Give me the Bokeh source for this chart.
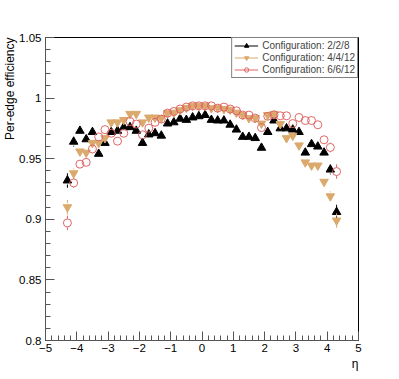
import numpy as np
from bokeh.plotting import figure
from bokeh.models import FixedTicker, Legend, LegendItem, ColumnDataSource, Title
from bokeh.embed import file_html
from bokeh.resources import INLINE

# ---- data ----
eta = [-4.3, -4.1, -3.9, -3.7, -3.5, -3.3, -3.1, -2.9, -2.7, -2.5, -2.3,
       -2.1, -1.9, -1.7, -1.5, -1.3, -1.1, -0.9, -0.7, -0.5, -0.3, -0.1,
       0.1, 0.3, 0.5, 0.7, 0.9, 1.1, 1.3, 1.5, 1.7, 1.9, 2.1,
       2.3, 2.5, 2.7, 2.9, 3.1, 3.3, 3.5, 3.7, 3.9, 4.1, 4.3]

eff_228 = [0.932, 0.964, 0.973, 0.966, 0.972, 0.954, 0.963, 0.972, 0.973, 0.976, 0.976,
           0.973, 0.963, 0.970, 0.971, 0.969, 0.979, 0.980, 0.983, 0.982, 0.984, 0.985,
           0.986, 0.982, 0.9815, 0.9815, 0.978, 0.974, 0.968, 0.968, 0.967, 0.959, 0.972,
           0.9815, 0.975, 0.975, 0.974, 0.972, 0.955, 0.962, 0.960, 0.955, 0.941, 0.906]

eff_4412 = [0.910, 0.938, 0.956, 0.955, 0.963, 0.963, 0.967, 0.980, 0.980, 0.982, 0.987,
            0.987, 0.980, 0.984, 0.984, 0.9835, 0.9876, 0.988, 0.990, 0.992, 0.9936, 0.9936,
            0.9936, 0.9917, 0.992, 0.991, 0.9905, 0.988, 0.986, 0.9835, 0.9835, 0.979, 0.986,
            0.987, 0.9786, 0.967, 0.969, 0.961, 0.947, 0.9444, 0.9444, 0.931, 0.919, 0.899]

eff_6612 = [0.897, 0.930, 0.9455, 0.947, 0.958, 0.968, 0.974, 0.971, 0.9645, 0.971, 0.9807,
            0.9786, 0.9697, 0.9752, 0.980, 0.9827, 0.9876, 0.989, 0.991, 0.9926, 0.9936, 0.9936,
            0.9936, 0.9936, 0.9917, 0.9926, 0.991, 0.9895, 0.986, 0.986, 0.9835, 0.9757, 0.985,
            0.9862, 0.9854, 0.9854, 0.979, 0.984, 0.9815, 0.9815, 0.978, 0.9656, 0.9593, 0.9394]

# approximate statistical uncertainties (larger at the edges)
err = [0.006, 0.004] + [0.0015] * 40 + [0.004, 0.006]

series_names = ["Configuration: 2/2/8", "Configuration: 4/4/12", "Configuration: 6/6/12"]

x_ticks = [-5, -4, -3, -2, -1, 0, 1, 2, 3, 4, 5]
x_tick_labels = ["\u22125", "\u22124", "\u22123", "\u22122", "\u22121", "0", "1", "2", "3", "4", "5"]
y_ticks = [0.8, 0.85, 0.9, 0.95, 1.0, 1.05]
y_tick_labels = ["0.8", "0.85", "0.9", "0.95", "1", "1.05"]

FONT = "Liberation Sans"

p = figure(width=398, height=378, x_range=(-5, 5), y_range=(0.8, 1.05),
           output_backend="svg", toolbar_location=None,
           min_border_left=39, min_border_right=40, min_border_top=37, min_border_bottom=38)
p.grid.visible = False
p.outline_line_color = "black"
p.outline_line_width = 1
p.background_fill_color = "white"
p.border_fill_color = "white"

x_minor = [round(v, 2) for v in np.arange(-5, 5.0001, 0.2)]
y_minor = [round(v, 3) for v in np.arange(0.8, 1.05001, 0.01)]
p.xaxis.ticker = FixedTicker(ticks=x_ticks, minor_ticks=x_minor)
p.yaxis.ticker = FixedTicker(ticks=y_ticks, minor_ticks=y_minor)
p.xaxis.major_label_overrides = {t: l for t, l in zip(x_ticks, x_tick_labels)}
p.yaxis.major_label_overrides = {t: l for t, l in zip(y_ticks, y_tick_labels)}

for ax in (p.xaxis[0], p.yaxis[0]):
    ax.major_tick_in = 9
    ax.major_tick_out = 0
    ax.minor_tick_in = 5
    ax.minor_tick_out = 0
    ax.axis_line_color = "#555555"
    ax.major_tick_line_color = "#555555"
    ax.minor_tick_line_color = "#555555"
    ax.major_label_text_font = FONT
    ax.major_label_text_font_size = "11.5px"
    ax.major_label_text_color = "black"
p.xaxis.major_label_standoff = 3
p.yaxis.major_label_standoff = 4

colors = ["black", "#dba96c", "#e06666"]
markers = ["triangle", "inverted_triangle", "circle"]
values = [eff_228, eff_4412, eff_6612]

# half marker height in data units (error bars are drawn outside the marker)
gap = 4.0 / 1212.0

items = []
for name, vals, col, mk in zip(series_names, values, colors, markers):
    src = ColumnDataSource(dict(x=eta, y=vals))
    ex, ylo0, ylo1, yhi0, yhi1 = [], [], [], [], []
    for xv, v, e in zip(eta, vals, err):
        if e > gap:
            ex.append(xv)
            ylo0.append(v - e)
            ylo1.append(v - gap)
            yhi0.append(v + gap)
            yhi1.append(v + e)
    if ex:
        p.segment(x0=ex, y0=ylo0, x1=ex, y1=ylo1, line_color=col, line_width=1)
        p.segment(x0=ex, y0=yhi0, x1=ex, y1=yhi1, line_color=col, line_width=1)
    # legend line sample (single point: draws nothing in the plot area)
    ln = p.line(x=[eta[0]], y=[vals[0]], line_color=col, line_width=1)
    if mk == "circle":
        r = p.scatter(x="x", y="y", source=src, marker=mk, size=8,
                      fill_color=None, line_color=col, line_width=1)
    else:
        r = p.scatter(x="x", y="y", source=src, marker=mk, size=8.5,
                      fill_color=col, line_color=col, line_width=1)
    items.append(LegendItem(label=name, renderers=[ln, r]))

legend = Legend(items=items, location="top_right", margin=0, padding=2, spacing=1,
                glyph_width=24, glyph_height=11, label_height=11, label_standoff=4,
                label_text_font=FONT, label_text_font_size="10px",
                border_line_color="black", border_line_width=1,
                background_fill_color="white", background_fill_alpha=1.0)
p.add_layout(legend)

ytitle = Title(text="Per-edge efficiency", align="right", standoff=0, offset=0,
               text_font=FONT, text_font_size="12px", text_font_style="normal",
               text_color="black")
p.add_layout(ytitle, "left")
xtitle = Title(text="\u03b7", align="right", standoff=0, offset=0,
               text_font=FONT, text_font_size="12px", text_font_style="normal",
               text_color="black")
p.add_layout(xtitle, "below")

open("out.html", "w").write(file_html(p, INLINE))
